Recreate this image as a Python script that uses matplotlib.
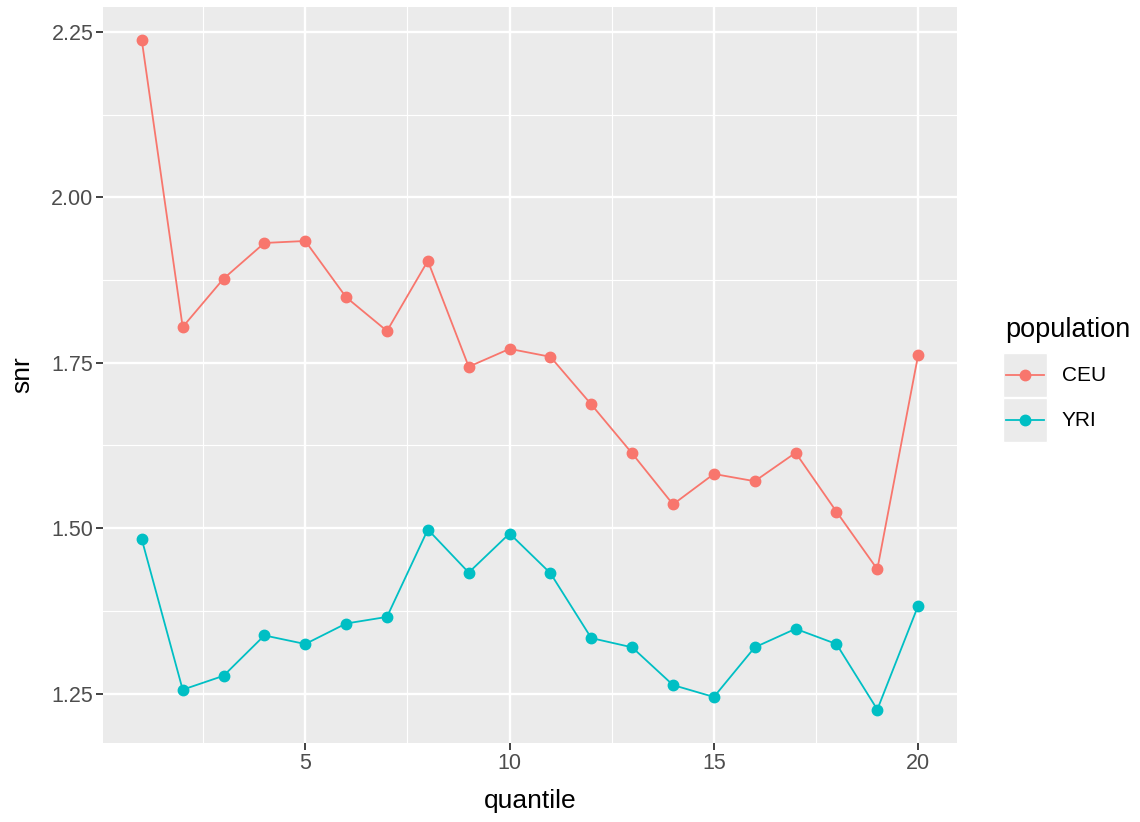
import matplotlib
matplotlib.use("Agg")
import matplotlib.pyplot as plt
from matplotlib.lines import Line2D
from matplotlib.patches import Rectangle

# data
quantile = list(range(1, 21))
ceu = [2.237, 1.804, 1.877, 1.931, 1.934, 1.849, 1.798, 1.904, 1.744, 1.771,
       1.759, 1.687, 1.613, 1.536, 1.582, 1.571, 1.614, 1.525, 1.438, 1.762]
yri = [1.483, 1.256, 1.277, 1.338, 1.325, 1.356, 1.366, 1.498, 1.433, 1.492,
       1.432, 1.334, 1.320, 1.263, 1.245, 1.320, 1.348, 1.325, 1.226, 1.383]
series = ["CEU", "YRI"]
colors = ["#F8766D", "#00BFC4"]
x_ticks = [5, 10, 15, 20]
y_ticks = [1.25, 1.50, 1.75, 2.00, 2.25]

plt.rcParams['font.family'] = ['Liberation Sans', 'DejaVu Sans']

W, H = 1140, 822
fig = plt.figure(figsize=(W / 100, H / 100), dpi=100)
ax = fig.add_axes([103 / W, 1 - 743 / H, (957 - 103) / W, (743 - 7) / H])

ax.set_facecolor("#EBEBEB")
for s in ax.spines.values():
    s.set_visible(False)

for vals, c in zip([ceu, yri], colors):
    ax.plot(quantile, vals, color=c, lw=1.3, marker='o', ms=7.5, mec=c, zorder=3)

# ggplot-style 5% expansion
allv = ceu + yri
lo, hi = min(allv), max(allv)
pad = (hi - lo) * 0.05
ax.set_ylim(lo - pad, hi + pad)
xpad = (max(quantile) - min(quantile)) * 0.05
ax.set_xlim(min(quantile) - xpad, max(quantile) + xpad)

ax.set_xticks(x_ticks)
ax.set_yticks(y_ticks)
ax.set_yticklabels(["%.2f" % v for v in y_ticks])
ax.set_xticks([2.5, 7.5, 12.5, 17.5], minor=True)
ax.set_yticks([1.375, 1.625, 1.875, 2.125], minor=True)
ax.grid(which='major', color='white', lw=1.7)
ax.grid(which='minor', color='white', lw=0.85)
ax.set_axisbelow(True)
ax.tick_params(which='major', length=5, width=1.3, color='#333333',
               labelsize=15.5, labelcolor='#4D4D4D', pad=2)
ax.tick_params(which='minor', length=0)

ax.set_xlabel("quantile", fontsize=19, color='black', labelpad=11)
ax.set_ylabel("snr", fontsize=19, color='black', labelpad=12)

# legend drawn ggplot style
fig.text(1005 / W, 1 - 330 / H, "population", fontsize=19.5, va='center', ha='left')
for i, (name, c) in enumerate(zip(series, colors)):
    top = 353 + i * 45
    fig.patches.append(Rectangle((1003 / W, 1 - (top + 44) / H), 44 / W, 44 / H,
                                 transform=fig.transFigure, facecolor='#EBEBEB',
                                 edgecolor='white', lw=1))
    yc = 1 - (top + 22) / H
    fig.lines.append(Line2D([1006 / W, 1044 / W], [yc, yc], transform=fig.transFigure,
                            color=c, lw=1.3))
    fig.lines.append(Line2D([1025 / W], [yc], transform=fig.transFigure,
                            color=c, marker='o', ms=7.5))
    fig.text(1062 / W, yc, name, fontsize=15, va='center', ha='left')

fig.savefig("out.png", dpi=100)
